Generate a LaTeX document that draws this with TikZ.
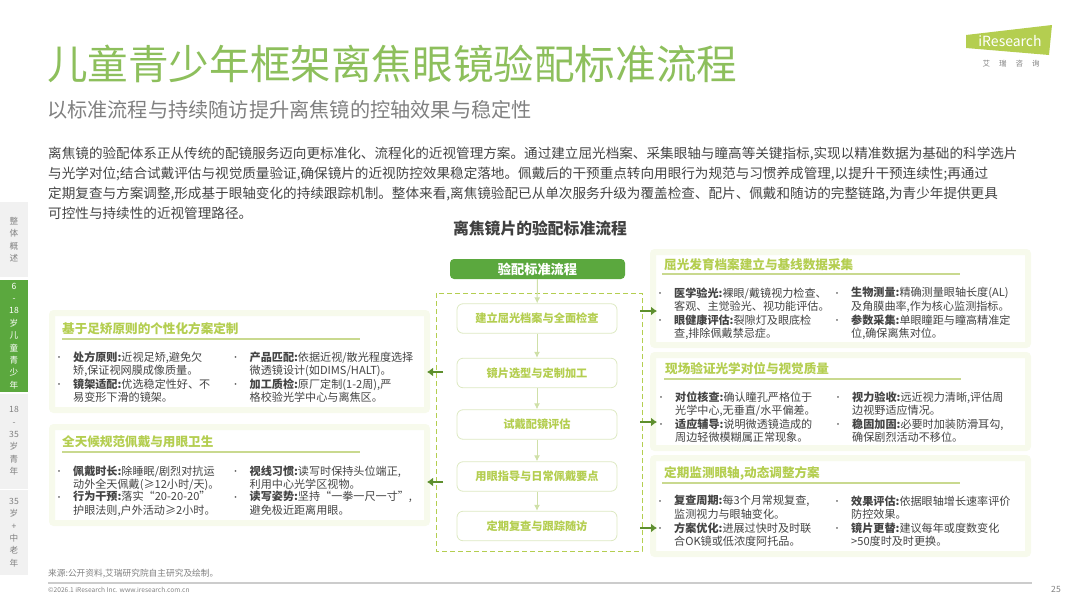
\documentclass[tikz,border=0pt]{standalone}
\usepackage{fontspec}
\setmainfont{Noto Sans CJK SC}
\usetikzlibrary{arrows.meta}
\definecolor{titlegreen}{HTML}{8DBF5C}
\definecolor{limegreen}{HTML}{B4CE50}
\definecolor{rulegreen}{HTML}{C9D98F}
\definecolor{darkgreen}{HTML}{5BA83E}
\definecolor{arrowgreen}{HTML}{5E8F2E}
\definecolor{paleline}{HTML}{CFE0A8}
\definecolor{halo}{HTML}{F7FAEC}
\definecolor{bodygrey}{HTML}{444444}
\definecolor{sidegrey}{HTML}{F1F1F1}
\newcommand{\panelitem}[6]{%
    \node[dotmark] at (#1,#2+.2) {•};
    \node[itemtext] (#3) at (#1+14,#2-6.7) {\textbf{#4}#5\\#6};
}
\begin{document}
\begin{tikzpicture}[x=1pt, y=-1pt, >=latex,
    panel/.style={fill=white, draw=halo, line width=6pt, rounded corners=2pt, minimum width=#1, inner sep=0pt},
    headtext/.style={anchor=west, inner sep=0pt, text=limegreen, font=\fontsize{12.6}{14}\selectfont\bfseries},
    headrule/.style={rulegreen, line width=1.2pt},
    itemtext/.style={anchor=north west, inner sep=0pt, align=left, text=bodygrey, font=\fontsize{11.1}{13.4}\selectfont},
    dotmark/.style={inner sep=0pt, text=bodygrey, font=\fontsize{8}{8}\selectfont},
    flowbox/.style={draw=paleline!70, fill=white, rounded corners=6pt, line width=.8pt, minimum width=160pt, minimum height=29.5pt, inner sep=0pt, text=limegreen, font=\fontsize{11.2}{13}\selectfont\bfseries},
    flowline/.style={paleline, line width=1pt, -{Latex[length=6pt,width=6pt]}},
    jump/.style={arrowgreen, line width=2pt, -{Latex[length=6pt,width=9pt]}},
    sidetab/.style={fill=sidegrey, minimum width=28pt, inner sep=0pt, align=center, text=gray, font=\fontsize{8.6}{12.4}\selectfont},
    ]
    \useasboundingbox (0,0) rectangle (1080,608);

    % heading
    \node[anchor=west, inner sep=0pt, text=titlegreen, font=\fontsize{40.6}{44}\selectfont] (title) at (47,64) {儿童青少年框架离焦眼镜验配标准流程};
    \node[anchor=west, inner sep=0pt, text=gray, font=\fontsize{20.2}{24}\selectfont] (subtitle) at (47,110) {以标准流程与持续随访提升离焦镜的控轴效果与稳定性};
    \node[anchor=north west, inner sep=0pt, align=left, text=bodygrey, font=\fontsize{13.6}{20}\selectfont] (intro) at (48,147) {离焦镜的验配体系正从传统的配镜服务迈向更标准化、流程化的近视管理方案。通过建立屈光档案、采集眼轴与瞳高等关键指标,实现以精准数据为基础的科学选片\\与光学对位;结合试戴评估与视觉质量验证,确保镜片的近视防控效果稳定落地。佩戴后的干预重点转向用眼行为规范与习惯养成管理,以提升干预连续性;再通过\\定期复查与方案调整,形成基于眼轴变化的持续跟踪机制。整体来看,离焦镜验配已从单次服务升级为覆盖检查、配片、佩戴和随访的完整链路,为青少年提供更具\\可控性与持续性的近视管理路径。};

    % logo
    \fill[limegreen] (966,35) -- (1052,25) -- (1049,55) -- (966,48) -- cycle;
    \node[inner sep=0pt, text=white, font=\fontsize{14}{16}\selectfont] (logo) at (1010,41) {iResearch};
    \node[inner sep=0pt, text=gray, font=\fontsize{7.5}{9}\selectfont] (logosub) at (1011,64) {艾\hspace{9pt}瑞\hspace{9pt}咨\hspace{9pt}询};

    % side tabs
    \node[sidetab, minimum height=75pt, text=gray] (tabA) at (14,239.5) {整\\体\\概\\述};
    \node[sidetab, minimum height=112pt, fill=darkgreen, text=white] (tabB) at (14,336) {6\\-\\18\\岁\\儿\\童\\青\\少\\年};
    \node[sidetab, minimum height=95pt] (tabC) at (14,441) {18\\-\\35\\岁\\青\\年};
    \node[sidetab, minimum height=85pt] (tabD) at (14,532.5) {35\\岁\\+\\中\\老\\年};

    % flow
    \node[inner sep=0pt, text=black!75, font=\fontsize{15.8}{18}\selectfont\bfseries] (flowtitle) at (540,228) {离焦镜片的验配标准流程};
    \node[fill=darkgreen, rounded corners=4pt, minimum width=175pt, minimum height=20pt, inner sep=0pt, text=white, font=\fontsize{13.2}{15}\selectfont\bfseries] (flowhead) at (537.5,269) {验配标准流程};
    \draw[limegreen, dashed, line width=1pt, dash pattern=on 5pt off 3pt] (436,293) rectangle (642,551);
    \node[flowbox] (stepA) at (537,318.5) {建立屈光档案与全面检查};
    \node[flowbox] (stepB) at (537,373) {镜片选型与定制加工};
    \node[flowbox] (stepC) at (537,424.5) {试戴配镜评估};
    \node[flowbox] (stepD) at (537,476.5) {用眼指导与日常佩戴要点};
    \node[flowbox] (stepE) at (537,526) {定期复查与跟踪随访};
    \draw[flowline] (flowhead) -- (stepA);
    \draw[flowline] (stepA) -- (stepB);
    \draw[flowline] (stepB) -- (stepC);
    \draw[flowline] (stepC) -- (stepD);
    \draw[flowline] (stepD) -- (stepE);

    % left panels
    \node[panel=375pt, minimum height=97pt] (panelA) at (239.5,361.5) {};
    \node[panel=375pt, minimum height=96pt] (panelB) at (239.5,475) {};
    \node[headtext] (headA) at (62,329) {基于足矫原则的个性化方案定制};
    \node[headtext] (headB) at (62,442) {全天候规范佩戴与用眼卫生};
    \draw[headrule] (62,339) -- (360,339);
    \draw[headrule] (62,452) -- (360,452);
    \panelitem{59}{358}{itemA}{处方原则:}{近视足矫,避免欠}{矫,保证视网膜成像质量。}
    \panelitem{59}{385}{itemB}{镜架适配:}{优选稳定性好、不}{易变形下滑的镜架。}
    \panelitem{235.5}{358}{itemC}{产品匹配:}{依据近视/散光程度选择}{微透镜设计(如DIMS/HALT)。}
    \panelitem{235.5}{385}{itemD}{加工质检:}{原厂定制(1-2周),严}{格校验光学中心与离焦区。}
    \panelitem{59}{472}{itemE}{佩戴时长:}{除睡眠/剧烈对抗运}{动外全天佩戴(≥12小时/天)。}
    \panelitem{59}{498}{itemF}{行为干预:}{落实“20-20-20”}{护眼法则,户外活动≥2小时。}
    \panelitem{235.5}{472}{itemG}{视线习惯:}{读写时保持头位端正,}{利用中心光学区视物。}
    \panelitem{235.5}{498}{itemH}{读写姿势:}{坚持“一拳一尺一寸”,}{避免极近距离用眼。}

    % right panels
    \node[panel=375pt, minimum height=93pt] (panelC) at (840.5,298.5) {};
    \node[panel=375pt, minimum height=93pt] (panelD) at (840.5,401.5) {};
    \node[panel=375pt, minimum height=96pt] (panelE) at (840.5,506) {};
    \node[headtext] (headC) at (664,265) {屈光发育档案建立与基线数据采集};
    \node[headtext] (headD) at (665,369) {现场验证光学对位与视觉质量};
    \node[headtext] (headE) at (664,473) {定期监测眼轴,动态调整方案};
    \draw[headrule] (662,274) -- (960,274);
    \draw[headrule] (664,379) -- (961,379);
    \draw[headrule] (662,483) -- (960,483);
    \panelitem{660}{294}{itemI}{医学验光:}{裸眼/戴镜视力检查、}{客观、主觉验光、视功能评估。}
    \panelitem{660}{321}{itemJ}{眼健康评估:}{裂隙灯及眼底检}{查,排除佩戴禁忌症。}
    \panelitem{837}{294}{itemK}{生物测量:}{精确测量眼轴长度(AL)}{及角膜曲率,作为核心监测指标。}
    \panelitem{837}{321}{itemL}{参数采集:}{单眼瞳距与瞳高精准定}{位,确保离焦对位。}
    \panelitem{661}{398}{itemM}{对位核查:}{确认瞳孔严格位于}{光学中心,无垂直/水平偏差。}
    \panelitem{661}{425}{itemN}{适应辅导:}{说明微透镜造成的}{周边轻微模糊属正常现象。}
    \panelitem{838}{398}{itemO}{视力验收:}{远近视力清晰,评估周}{边视野适应情况。}
    \panelitem{838}{425}{itemP}{稳固加固:}{必要时加装防滑耳勾,}{确保剧烈活动不移位。}
    \panelitem{660}{502}{itemQ}{复查周期:}{每3个月常规复查,}{监测视力与眼轴变化。}
    \panelitem{660}{529}{itemR}{方案优化:}{进展过快时及时联}{合OK镜或低浓度阿托品。}
    \panelitem{837}{502}{itemS}{效果评估:}{依据眼轴增长速率评价}{防控效果。}
    \panelitem{837}{529}{itemT}{镜片更替:}{建议每年或度数变化}{>50度时及时更换。}

    % short arrows between the flow and the panels
    \coordinate (outA) at (640,311);
    \coordinate (outC) at (640,422);
    \coordinate (outE) at (640,528);
    \coordinate (outB) at (443,372);
    \coordinate (outD) at (443,482);
    \coordinate (inA) at (657,311);
    \coordinate (inC) at (657,422);
    \coordinate (inE) at (657,528);
    \coordinate (inB) at (427,372);
    \coordinate (inD) at (427,482);
    \draw[jump] (outA) -- (inA);
    \draw[jump] (outC) -- (inC);
    \draw[jump] (outE) -- (inE);
    \draw[jump] (outB) -- (inB);
    \draw[jump] (outD) -- (inD);

    % footer
    \node[anchor=west, inner sep=0pt, text=gray, font=\fontsize{8.7}{10}\selectfont] (source) at (48,574) {来源:公开资料,艾瑞研究院自主研究及绘制。};
    \draw[black!20, line width=1.3pt] (48,583) -- (1032,583);
    \node[anchor=west, inner sep=0pt, text=gray, font=\fontsize{6.6}{8}\selectfont] (copyright) at (48,590) {©2026.1 iResearch Inc. www.iresearch.com.cn};
    \node[inner sep=0pt, text=gray, font=\fontsize{8.6}{10}\selectfont] (pagenum) at (1056,589) {25};
\end{tikzpicture}
\end{document}
